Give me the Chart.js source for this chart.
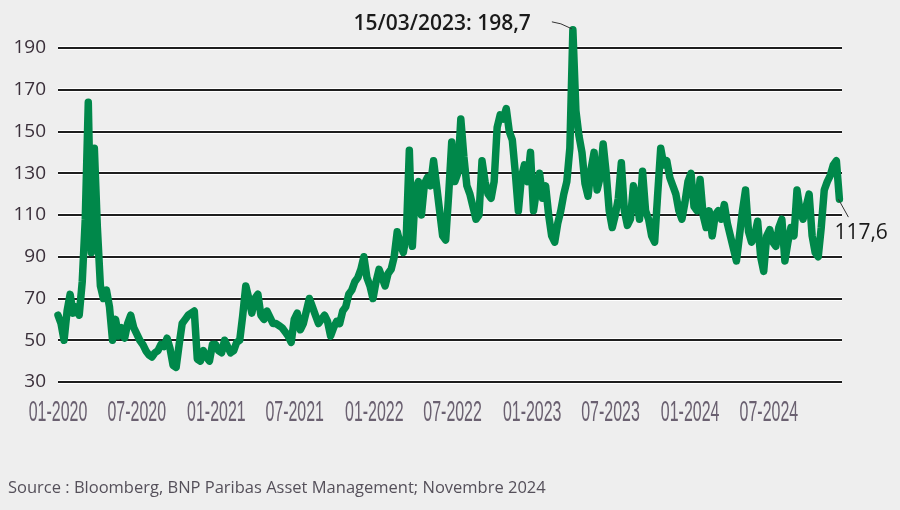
<!DOCTYPE html>
<html>
<head>
<meta charset="utf-8">
<script src="https://cdn.jsdelivr.net/npm/chart.js@4.4.0/dist/chart.umd.min.js"></script>
<style>
  html, body { margin: 0; padding: 0; background: #eeeeee; }
  #wrap { width: 900px; height: 510px; position: relative; }
</style>
</head>
<body>
<div id="wrap"><canvas id="moveChart"></canvas></div>
<script>
// étiquettes de l'axe des dates
var xLabels = ['01-2020', '07-2020', '01-2021', '07-2021', '01-2022', '07-2022', '01-2023', '07-2023', '01-2024', '07-2024'];
var yTicks = [30, 50, 70, 90, 110, 130, 150, 170, 190];

// indice MOVE, un point par semaine depuis 01-2020
var move = [
  62, 58, 50, 64, 72, 63, 66, 62, 78, 108,
  164, 92, 142, 104, 76, 70, 74, 66, 50, 60,
  52, 56, 51, 58, 62, 56, 53, 50, 48, 45,
  43, 42, 44, 45, 48, 47, 51, 46, 38, 37,
  48, 58, 60, 62, 63, 64, 41, 40, 45, 42,
  40, 48, 48, 45, 44, 50, 47, 44, 45, 49,
  50, 62, 76, 70, 63, 70, 72, 62, 60, 64,
  61, 58, 58, 57, 56, 54, 52, 49, 60, 63,
  55, 58, 64, 70, 66, 62, 58, 60, 62, 59,
  52, 56, 59, 58, 64, 66, 72, 74, 78, 80,
  84, 90, 80, 76, 70, 78, 84, 80, 76, 82,
  84, 90, 102, 96, 92, 100, 141, 95, 122, 126,
  110, 125, 128, 124, 136, 124, 112, 100, 98, 120,
  145, 126, 130, 156, 138, 124, 120, 114, 108, 110,
  136, 126, 120, 118, 126, 152, 158, 156, 161, 150,
  146, 130, 112, 128, 134, 126, 140, 112, 122, 130,
  118, 124, 110, 100, 97, 106, 112, 120, 126, 142,
  198.7, 160, 148, 140, 125, 119, 132, 140, 122, 128,
  144, 130, 112, 104, 110, 118, 135, 112, 105, 108,
  124, 118, 108, 131, 112, 108, 100, 97, 120, 142,
  134, 136, 128, 124, 120, 112, 108, 116, 126, 130,
  114, 112, 127, 110, 104, 112, 100, 110, 112, 108,
  115, 106, 100, 94, 88, 100, 112, 122, 102, 97,
  100, 107, 90, 83, 100, 103, 97, 95, 104, 108,
  88, 97, 104, 100, 122, 112, 108, 114, 120, 100,
  92, 90, 104, 122, 126, 129, 134, 136, 117.6
];

var peakDate = '15/03/2023';
var sourceText = 'Source : Bloomberg, BNP Paribas Asset Management; Novembre 2024';

// jours depuis le 01/01/2020
function daysFrom(lab) {
  var p = lab.split('-');
  return (Date.UTC(+p[1], +p[0] - 1, 1) - Date.UTC(2020, 0, 1)) / 864e5;
}
var tickDays = xLabels.map(daysFrom);
var points = move.map(function (v, i) { return { x: i * 7, y: v }; });

function fmt(v) { return v.toFixed(1).replace('.', ','); }

var decor = {
  id: 'decor',
  beforeDraw: function (chart) {
    var ctx = chart.ctx, a = chart.chartArea, y = chart.scales.y;
    ctx.save();
    ctx.fillStyle = '#eeeeee';
    ctx.fillRect(0, 0, chart.width, chart.height);
    // liseré blanc autour des lignes de grille
    ctx.strokeStyle = '#ffffff';
    ctx.lineWidth = 4;
    yTicks.forEach(function (t) {
      var py = Math.round(y.getPixelForValue(t));
      ctx.beginPath();
      ctx.moveTo(a.left, py);
      ctx.lineTo(a.right, py);
      ctx.stroke();
    });
    ctx.restore();
  },
  afterDraw: function (chart) {
    var ctx = chart.ctx, x = chart.scales.x, y = chart.scales.y;
    ctx.save();

    // dates en police étroite
    ctx.fillStyle = '#6a6070';
    ctx.font = '29px "Liberation Sans", sans-serif';
    ctx.textAlign = 'center';
    ctx.textBaseline = 'alphabetic';
    xLabels.forEach(function (lab, k) {
      var px = x.getPixelForValue(tickDays[k]);
      ctx.save();
      ctx.translate(px, 421);
      ctx.scale(0.55, 1);
      ctx.fillText(lab, 0, 0);
      ctx.restore();
    });

    // pic
    var iMax = 0;
    move.forEach(function (v, i) { if (v > move[iMax]) iMax = i; });
    var pxm = x.getPixelForValue(points[iMax].x), pym = y.getPixelForValue(move[iMax]);
    ctx.strokeStyle = '#333333';
    ctx.lineWidth = 1;
    ctx.beginPath();
    ctx.moveTo(pxm - 21, pym - 8);
    ctx.lineTo(pxm - 12, pym - 6);
    ctx.lineTo(pxm - 1, pym - 1);
    ctx.stroke();
    ctx.fillStyle = '#1a1a1a';
    ctx.font = '600 21px "Open Sans", sans-serif';
    ctx.textAlign = 'right';
    ctx.fillText(peakDate + ': ' + fmt(move[iMax]), pxm - 42, pym);

    // dernière valeur
    var last = points[points.length - 1];
    var pxl = x.getPixelForValue(last.x), pyl = y.getPixelForValue(last.y);
    ctx.beginPath();
    ctx.moveTo(pxl - 1, pyl);
    ctx.lineTo(pxl + 9, pyl + 18);
    ctx.stroke();
    ctx.textAlign = 'left';
    ctx.font = '500 21px "Open Sans", sans-serif';
    ctx.fillText(fmt(last.y), pxl - 5, pyl + 40);

    // source
    ctx.fillStyle = '#55505a';
    ctx.font = '16.5px "Open Sans", sans-serif';
    ctx.fillText(sourceText, 8, 493);
    ctx.restore();
  }
};

var ctx = document.getElementById('moveChart');
var moveChart = new Chart(ctx, {
  type: 'line',
  data: {
    datasets: [{
      data: points,
      borderColor: '#00884a',
      borderWidth: 7.5,
      borderJoinStyle: 'round',
      borderCapStyle: 'round',
      pointRadius: 0,
      tension: 0,
      clip: false
    }]
  },
  options: {
    responsive: true,
    maintainAspectRatio: false,
    animation: false,
    events: [],
    layout: { padding: { left: 0, right: 58, top: 48, bottom: 128 } },
    plugins: { legend: { display: false }, tooltip: { enabled: false } },
    scales: {
      x: {
        type: 'linear',
        display: false,
        min: 0,
        max: 1812
      },
      y: {
        min: 30,
        max: 190,
        afterFit: function (s) { s.width = 58; },
        afterBuildTicks: function (s) { s.ticks = yTicks.map(function (v) { return { value: v }; }); },
        border: { display: false },
        grid: { color: '#1e1e1e', lineWidth: 2, drawTicks: false },
        ticks: {
          padding: 12,
          color: '#3a2f3a',
          font: { family: '"Open Sans", sans-serif', size: 19 }
        }
      }
    }
  },
  plugins: [decor]
});
</script>
</body>
</html>
